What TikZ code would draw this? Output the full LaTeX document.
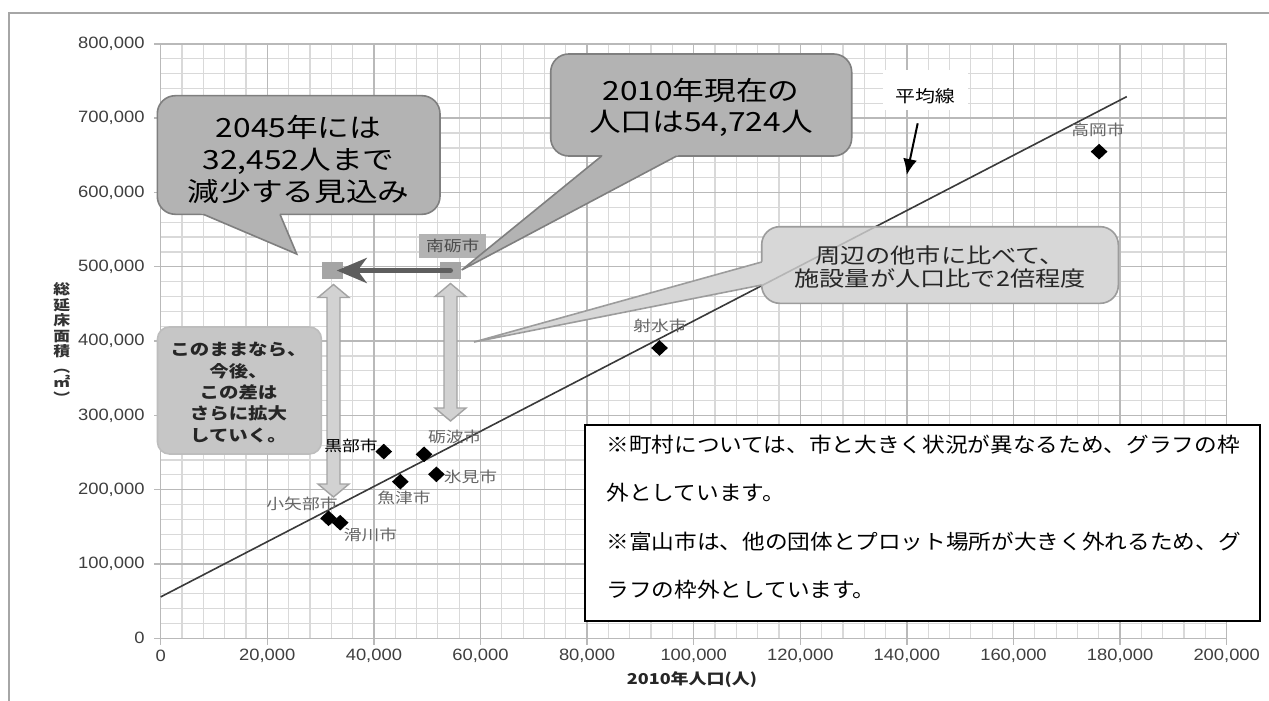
\documentclass[tikz,border=0pt]{standalone}
\usepackage{fontspec}
\setmainfont{Liberation Sans}
\newfontfamily\jp[FakeStretch=1.2]{Noto Sans CJK JP}
\newfontfamily\jpm[FakeStretch=1.1]{Noto Sans CJK JP}
\newfontfamily\tickf[FakeStretch=1.12]{Liberation Sans}
\usetikzlibrary{shapes.geometric,arrows.meta,calc}
\definecolor{gminor}{HTML}{D9D9D9}
\definecolor{gmajor}{HTML}{B9B9B9}
\definecolor{framec}{HTML}{A6A6A6}
\definecolor{tickc}{HTML}{3F3F3F}
\definecolor{cityc}{HTML}{666666}
\definecolor{trendc}{HTML}{3A3A3A}
\definecolor{trendl}{HTML}{B5B5B5}
\definecolor{boxA}{HTML}{B3B3B3}
\definecolor{boxAd}{HTML}{7F7F7F}
\definecolor{boxB}{HTML}{D7D7D7}
\definecolor{boxBd}{HTML}{9C9C9C}
\definecolor{boxC}{HTML}{C6C6C6}
\definecolor{boxCd}{HTML}{BDBDBD}
\definecolor{sqc}{HTML}{A5A5A5}
\definecolor{harrowc}{HTML}{5E5E5E}
\definecolor{varrowf}{HTML}{D2D2D2}
\definecolor{varrowd}{HTML}{A3A3A3}
\newcommand{\mycallout}[6]{%
  \filldraw[#1, rounded corners=9pt] #2 rectangle #3;
  \fill[#1, draw=none] ($#5!1.1!#4$) -- #5 -- ($#5!1.1!#6$) -- cycle;
  \draw[#1, fill=none] #4 -- #5 -- #6;
}
\newcommand{\vdarrow}[3]{%
  \filldraw[varrow] (#1,#2) -- ({#1+15.5},{#2+13}) -- ({#1+6.5},{#2+13}) -- ({#1+6.5},{#3-13}) -- ({#1+15.5},{#3-13}) -- (#1,#3) -- ({#1-15.5},{#3-13}) -- ({#1-6.5},{#3-13}) -- ({#1-6.5},{#2+13}) -- ({#1-15.5},{#2+13}) -- cycle;}
\tikzset{
  gmin/.style={draw=gminor, line width=0.6pt},
  gmaj/.style={draw=gmajor, line width=0.7pt},
  dia/.style={diamond, fill=black, inner sep=0pt, minimum width=8.5pt, minimum height=8pt},
  citylab/.style={font=\jp\fontsize{7.4pt}{8pt}\selectfont, text=cityc, inner sep=0pt},
  ticklab/.style={font=\tickf\fontsize{8.2pt}{9pt}\selectfont, text=tickc, inner sep=0pt},
  bigtxt/.style={font=\jp\fontsize{13.2pt}{16pt}\selectfont, align=center, inner sep=0pt},
  midtxt/.style={font=\jp\fontsize{10.5pt}{11.7pt}\selectfont, align=center, inner sep=0pt, text=black!85},
  smalltxt/.style={font=\jp\bfseries\fontsize{8.1pt}{10.7pt}\selectfont, align=center, inner sep=0pt, text=black!85},
  notetxt/.style={font=\jpm\fontsize{10.3pt}{12pt}\selectfont, inner sep=0pt, anchor=base west},
  callA/.style={fill=boxA, draw=boxAd, line width=0.8pt},
  callB/.style={fill=boxB, draw=boxBd, line width=0.8pt},
  callC/.style={fill=boxC, draw=boxCd, line width=0.8pt},
  varrow/.style={fill=varrowf, draw=varrowd, line width=0.7pt},
  sqnode/.style={rectangle, fill=sqc, inner sep=0pt, minimum width=10.8pt, minimum height=8.8pt},
  trendline/.style={draw=trendc, line width=0.8pt},
}
\begin{document}
\begin{tikzpicture}[x=0.5pt,y=-0.5pt]
\useasboundingbox (0,0) rectangle (1269,701);
\fill[white] (0,0) rectangle (1269,701);
% outer frame
\draw[framec, line width=1pt] (9,701) -- (9,12.7) -- (1269,12.7);

% ---------- plot area in data units (x: thousand persons, y: thousand m2)
\begin{scope}[shift={(160.7,638.3)}, x=2.665pt, y=0.3715pt]
  \foreach \i in {0,4,...,200} \draw[gmin] (\i,0) -- (\i,800);
  \foreach \j in {0,20,...,800} \draw[gmin] (0,\j) -- (200,\j);
  \foreach \i in {0,20,...,200} \draw[gmaj] (\i,0) -- (\i,800) (\i,0) -- ++(0,-3.5pt);
  \foreach \j in {0,100,...,800} \draw[gmaj] (0,\j) -- (200,\j) (0,\j) -- ++(-3.5pt,0);
  \foreach \j/\t in {0/0,100/{100,000},200/{200,000},300/{300,000},400/{400,000},500/{500,000},600/{600,000},700/{700,000},800/{800,000}}
    \node[ticklab, anchor=east, xshift=-7.9pt] (yl\j) at (0,\j) {\t};
  \foreach \i/\t in {0/0,20/{20,000},40/{40,000},60/{60,000},80/{80,000},100/{100,000},120/{120,000},140/{140,000},160/{160,000},180/{180,000},200/{200,000}}
    \node[ticklab, anchor=center, yshift=-8.9pt] (xl\i) at (\i,0) {\t};
  % trend line
  \coordinate (t0) at (0,55.7);
  \coordinate (t1) at (181.24,729);
  \draw[trendline] (t0) -- (t1);
  % data points
  \node[dia] (takaoka) at (176.061,655) {};
  \node[dia] (imizu) at (93.588,390.7) {};
  \node[dia] (kurobe) at (41.852,251.3) {};
  \node[dia] (tonami) at (49.410,247.6) {};
  \node[dia] (himi) at (51.726,220.7) {};
  \node[dia] (uozu) at (44.959,210.8) {};
  \node[dia] (oyabe) at (31.487,161.5) {};
  \node[dia] (namerikawa) at (33.676,155.6) {};
\end{scope}

% axis titles
\node[font=\jp\bfseries\fontsize{7.5pt}{9pt}\selectfont, text=black!85, inner sep=0pt] (xtitle) at (692,680) {2010年人口(人)};
\node[font=\jp\bfseries\fontsize{7pt}{7.75pt}\selectfont, align=center, text=black!80, inner sep=0pt] (ytitle) at (61.7,343) {総\\延\\床\\面\\積\\︵\\㎡\\︶};

% 平均線 label
\node[fill=white, minimum width=42.5pt, minimum height=20pt, inner sep=0pt] (heikinbg) at (925.5,90) {};
\node[font=\jp\fontsize{8.3pt}{9pt}\selectfont, inner sep=0pt] (heikin) at (925,96.7) {平均線};
\coordinate (hk1) at (917.7,123.3);
\coordinate (hk2) at (906.7,175);
\draw[line width=1pt, -{Latex[length=8pt,width=7pt]}] (hk1) -- (hk2);

% vertical double block arrows
\vdarrow{333.5}{284.5}{497}
\vdarrow{450.5}{283.5}{421}

% city labels (drawn over the arrows)
\node[citylab] (lbtakaoka) at (1098,130) {高岡市};
\node[citylab] (lbimizu) at (660,326) {射水市};
\node[citylab] (lbtonami) at (454.7,436.7) {砺波市};
\node[citylab] (lbhimi) at (470.5,477.3) {氷見市};
\node[citylab] (lbuozu) at (403.9,498.3) {魚津市};
\node[citylab] (lboyabe) at (302,504) {小矢部市};
\node[citylab] (lbnamerikawa) at (370.5,535) {滑川市};
\node[citylab, text=black, font=\jp\fontsize{7.4pt}{8pt}\selectfont] (lbkurobe) at (351,446) {黒部市};

% box 4 (no pointer)
\filldraw[callC, rounded corners=6pt] (157.5,327) rectangle (321.4,454);
\node[smalltxt] (t4) at (238.5,392.5) {このままなら、\\今後、\\この差は\\さらに拡大\\していく。};

% squares, label, horizontal arrow
\node[rectangle, fill=boxA, text=black!70, font=\jp\fontsize{7.4pt}{8pt}\selectfont, minimum width=33.3pt, minimum height=11.8pt, inner sep=0pt] (nanto) at (452.7,245.8) {南砺市};
\node[sqnode] (lsq) at (332.5,270.5) {};
\node[sqnode] (rsq) at (450.5,270.5) {};
\draw[harrowc, line width=2.5pt, line cap=round, shorten >=2.1pt, -{Stealth[length=15pt,width=12.5pt,inset=4.5pt]}] (rsq.center) -- (lsq.center);

% callout 1
\coordinate (p1) at (296.7,254);
\mycallout{callA}{(157.3,95.7)}{(440,214.3)}{(203.3,214.3)}{(p1)}{(280,214.3)}
\node[bigtxt] (t1txt) at (298.6,159) {2045年には\\32,452人まで\\減少する見込み};

% callout 2
\coordinate (p2) at (461.7,270);
\mycallout{callA}{(550.7,54)}{(851.7,156)}{(601.7,156)}{(p2)}{(676.7,156)}
\node[bigtxt, font=\jp\fontsize{13.2pt}{15.8pt}\selectfont] (t2txt) at (701,107.5) {2010年現在の\\人口は54,724人};

% callout 3
\coordinate (p3) at (474,342);
\mycallout{callB}{(761.7,226.7)}{(1118.3,303.3)}{(761.7,262)}{(p3)}{(761.7,285)}
\begin{scope}
  \clip[rounded corners=9pt] (761.7,226.7) rectangle (1118.3,303.3);
  \draw[trendline, draw=trendl] (t0) -- (t1);
\end{scope}
\node[midtxt] (t3txt) at (940,266.7) {周辺の他市に比べて、\\施設量が人口比で2倍程度};

% note box
\node[draw=black, line width=0.6pt, fill=white, minimum width=337.5pt, minimum height=98pt, inner sep=0pt] (note) at (922.5,523) {};
\node[notetxt] (n1) at (606,452) {※町村については、市と大きく状況が異なるため、グラフの枠};
\node[notetxt] (n2) at (606,500.5) {外としています。};
\node[notetxt] (n3) at (606,549) {※富山市は、他の団体とプロット場所が大きく外れるため、グ};
\node[notetxt] (n4) at (606,597.5) {ラフの枠外としています。};
\end{tikzpicture}
\end{document}
